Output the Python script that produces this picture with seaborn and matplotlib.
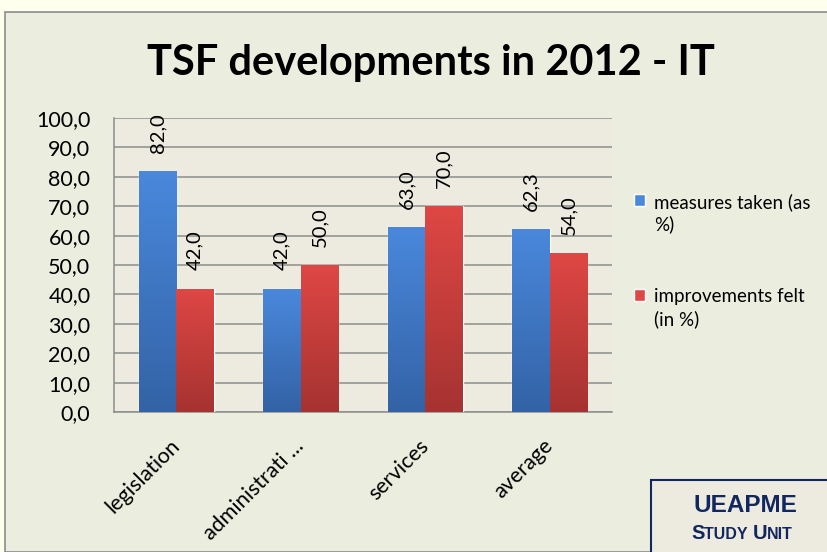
import numpy as np
import pandas as pd
import matplotlib
matplotlib.use("Agg")
import matplotlib.pyplot as plt
import seaborn as sns
from matplotlib.patches import Rectangle
from matplotlib.colors import LinearSegmentedColormap
from matplotlib.legend_handler import HandlerPatch
from matplotlib.transforms import ScaledTranslation

# --- dados ---
categories = ["legislation", "administrati ...", "services", "average"]
series_names = ["measures taken (as\n%)", "improvements felt\n(in %)"]
measures_taken = [82.0, 42.0, 63.0, 62.3]
improvements_felt = [42.0, 50.0, 70.0, 54.0]
y_ticks = [0, 10, 20, 30, 40, 50, 60, 70, 80, 90, 100]
title = "TSF developments in 2012 - IT"

# cores (topo, base) do degradê de cada série
grad_colors = [("#4A88DC", "#3363A6"), ("#DE4744", "#A63331")]


def fmt(v):
    return f"{v:.1f}".replace(".", ",")


df = pd.DataFrame({
    "categoria": categories * 2,
    "serie": [series_names[0]] * 4 + [series_names[1]] * 4,
    "valor": measures_taken + improvements_felt,
})

sns.set_style("white")
plt.rcParams["font.family"] = ["Lato", "DejaVu Sans"]
plt.rcParams["text.color"] = "black"
plt.rcParams["xtick.color"] = "black"
plt.rcParams["ytick.color"] = "black"

W, H = 827, 552
fig = plt.figure(figsize=(W / 100, H / 100), dpi=100, facecolor="#FFFFEE")

# moldura externa do gráfico
fig.patches.append(Rectangle((5 / W, 0), 1.0, (H - 12) / H, transform=fig.transFigure,
                             facecolor="#EBEEDF", edgecolor="#8C8C8C", linewidth=1.2,
                             zorder=-10))

ax = fig.add_axes([114 / W, (H - 412) / H, (612 - 114) / W, (412 - 118) / H])
ax.set_facecolor("#EDEBE0")

sns.barplot(data=df, x="categoria", y="valor", hue="serie", order=categories,
            hue_order=series_names, palette=[c[0] for c in grad_colors],
            width=0.6, saturation=1, ax=ax, legend=False, zorder=3)

# degradê vertical nas barras
for cont, (top, bot) in zip(ax.containers, grad_colors):
    cmap = LinearSegmentedColormap.from_list("g", [bot, top])
    for patch in cont:
        x0, y0 = patch.get_x(), patch.get_y()
        w, h = patch.get_width(), patch.get_height()
        grad = np.linspace(1, 0, 64).reshape(-1, 1)
        im = ax.imshow(grad, cmap=cmap, aspect="auto", extent=[x0, x0 + w, y0, y0 + h],
                       zorder=3.5, vmin=0, vmax=1)
        im.set_clip_path(patch)
    vals = [p.get_height() for p in cont]
    ax.bar_label(cont, labels=[fmt(v) for v in vals], rotation=90, padding=13,
                 fontsize=14.5, color="black", zorder=5)

ax.set_xlim(-0.5, len(categories) - 0.5)
ax.set_ylim(0, 100)
ax.set_yticks(y_ticks)
ax.set_yticklabels([fmt(v) for v in y_ticks], fontsize=15.5)
ax.yaxis.grid(True, color="#8C8C8C", linewidth=1.1, zorder=1)
ax.set_axisbelow(True)

# ticks do eixo x nas divisas entre categorias
ax.set_xticks(np.arange(-0.5, len(categories), 1.0))
ax.set_xticklabels([])
ax.set_xticks(range(len(categories)), minor=True)
ax.set_xticklabels(categories, minor=True, rotation=45, ha="right",
                   rotation_mode="anchor", fontsize=15.5)
ax.tick_params(axis="x", which="minor", length=0, pad=17)
ax.tick_params(axis="x", which="major", length=7, color="#8C8C8C", width=1.1)
ax.tick_params(axis="y", length=7, color="#8C8C8C", width=1.1, pad=10)
for lbl in ax.get_xticklabels(minor=True):
    lbl.set_transform(lbl.get_transform() + ScaledTranslation(-7 / 100, 0, fig.dpi_scale_trans))
ax.set_xlabel("")
ax.set_ylabel("")

for s in ["top", "right"]:
    ax.spines[s].set_visible(False)
for s in ["left", "bottom"]:
    ax.spines[s].set_color("#8C8C8C")
    ax.spines[s].set_linewidth(1.1)


# legenda: quadrado alinhado com a primeira linha do texto
LEG_FS = 13.5
LEG_LS = 1.3


def square_top(legend, orig_handle, xdescent, ydescent, width, height, fontsize):
    shift = fontsize * 0.7
    return Rectangle((-xdescent, -ydescent + shift), width, height)


handles = [Rectangle((0, 0), 1, 1, facecolor=c[0]) for c in grad_colors]
leg = fig.legend(handles, series_names, loc="upper left",
                 bbox_to_anchor=(617 / W, 1 - 176 / H), frameon=False, fontsize=LEG_FS,
                 handlelength=0.6, handleheight=0.6, handletextpad=0.5, labelspacing=2.95,
                 handler_map={Rectangle: HandlerPatch(patch_func=square_top)})
for t in leg.get_texts():
    t.set_linespacing(LEG_LS)

fig.text(431 / W, 1 - 63 / H, title, ha="center", va="center", fontsize=30,
         fontweight="bold")

# selo UEAPME
navy = "#12275E"
fig.patches.append(Rectangle((651 / W, -0.1), 0.3, (0.1 + (H - 480) / H),
                             transform=fig.transFigure, facecolor="#EDEBE0",
                             edgecolor=navy, linewidth=1.5, zorder=2))
fig.text(745 / W, 1 - 505 / H, "UEAPME", ha="center", va="center", fontsize=17.5,
         fontweight="bold", color=navy, family="Liberation Sans")
xs = 691 / W
for txt, size in [("S", 14.5), ("TUDY ", 11.5), ("U", 14.5), ("NIT", 11.5)]:
    t = fig.text(xs, 1 - 539 / H, txt, ha="left", va="baseline", fontsize=size,
                 fontweight="bold", color=navy, family="Liberation Sans")
    fig.canvas.draw()
    bb = t.get_window_extent()
    xs += bb.width / W

fig.savefig("out.png", dpi=100, facecolor=fig.get_facecolor())
